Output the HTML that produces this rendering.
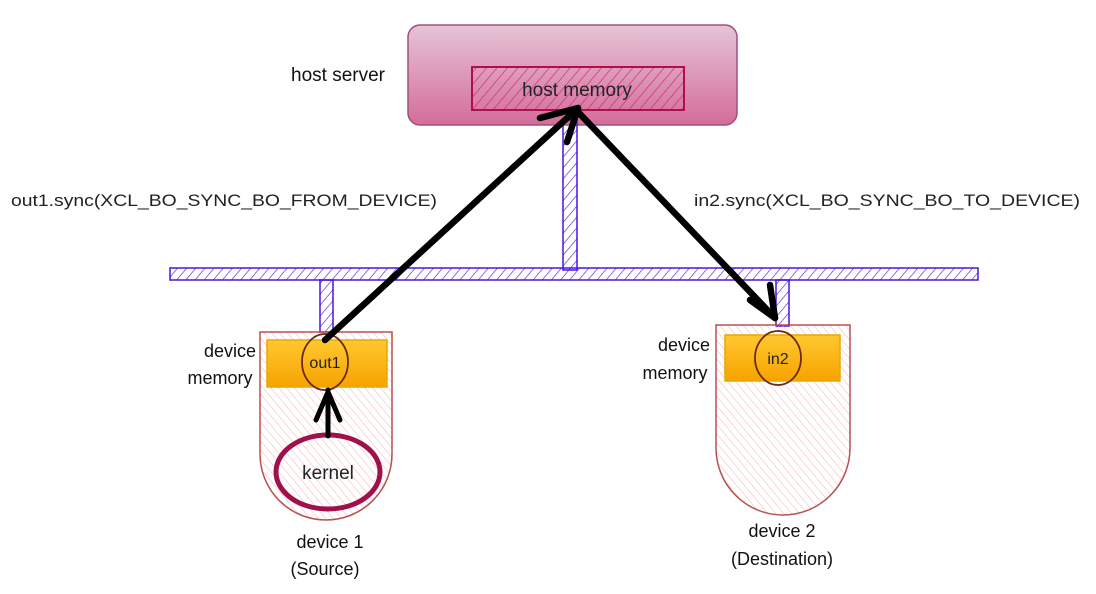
<!DOCTYPE html>
<html><head><style>
body{margin:0;background:#fff;}
svg{display:block;font-family:"Liberation Sans",sans-serif;}
</style></head><body>
<svg width="1096" height="594" viewBox="0 0 1096 594" xmlns="http://www.w3.org/2000/svg">
<defs>
<linearGradient id="hg" x1="0" y1="0" x2="0" y2="1"><stop offset="0" stop-color="#e6c4d6"/><stop offset="1" stop-color="#d46c9a"/></linearGradient>
<linearGradient id="og" x1="0" y1="0" x2="0" y2="1"><stop offset="0" stop-color="#ffc830"/><stop offset="1" stop-color="#f7a300"/></linearGradient>
<pattern id="bh" width="7" height="7" patternUnits="userSpaceOnUse" patternTransform="rotate(40)"><line x1="0" y1="0" x2="0" y2="7" stroke="#5522dd" stroke-width="1.3"/></pattern>
<pattern id="mh" width="8" height="8" patternUnits="userSpaceOnUse" patternTransform="rotate(40)"><line x1="0" y1="0" x2="0" y2="8" stroke="#d41a6e" stroke-width="1.2"/></pattern>
<pattern id="dh" width="6" height="6" patternUnits="userSpaceOnUse" patternTransform="rotate(-40)"><line x1="0" y1="0" x2="0" y2="6" stroke="#f4b0b0" stroke-width="1"/></pattern>
</defs>
<!-- host -->
<rect x="408" y="25" width="329" height="100" rx="12" fill="url(#hg)" stroke="#a05080" stroke-width="1.5"/>
<rect x="472" y="67" width="212" height="43" fill="url(#mh)" stroke="#b0104a" stroke-width="2"/>
<text x="577" y="96" font-size="19" text-anchor="middle" fill="#222">host memory</text>
<text x="338" y="81" font-size="19" text-anchor="middle" fill="#111">host server</text>
<!-- bus -->
<rect x="563" y="120" width="14" height="150" fill="url(#bh)" stroke="#4a14dd" stroke-width="1.5"/>
<rect x="170" y="268" width="808" height="12" fill="url(#bh)" stroke="#4a14dd" stroke-width="1.5"/>
<rect x="320" y="280" width="13" height="52" fill="url(#bh)" stroke="#4a14dd" stroke-width="1.5"/>
<rect x="776" y="280" width="13" height="46" fill="url(#bh)" stroke="#4a14dd" stroke-width="1.5"/>
<!-- devices -->
<path d="M260 332 H392 V454 A66 66 0 0 1 260 454 Z" fill="url(#dh)" stroke="#b85050" stroke-width="1.5"/>
<path d="M716 325 H850 V448 A67 67 0 0 1 716 448 Z" fill="url(#dh)" stroke="#b85050" stroke-width="1.5"/>
<rect x="267" y="340" width="120" height="47" fill="url(#og)" stroke="#e8a800" stroke-width="1.5"/>
<rect x="725" y="335" width="115" height="46" fill="url(#og)" stroke="#e8a800" stroke-width="1.5"/>
<ellipse cx="325" cy="362" rx="23" ry="28" fill="none" stroke="#6a2a10" stroke-width="1.8"/>
<ellipse cx="778" cy="358" rx="23" ry="27" fill="none" stroke="#6a2a10" stroke-width="1.8"/>
<text x="325" y="368" font-size="16" text-anchor="middle" fill="#222">out1</text>
<text x="778" y="364" font-size="16" text-anchor="middle" fill="#222">in2</text>
<ellipse cx="328" cy="472" rx="52" ry="37" fill="none" stroke="#a0104a" stroke-width="5"/>
<text x="328" y="479" font-size="19" text-anchor="middle" fill="#222">kernel</text>
<!-- arrows -->
<g stroke="#000" stroke-width="5" fill="none" stroke-linecap="round" stroke-linejoin="round">
<line x1="328" y1="436" x2="328" y2="390"/>
<polyline points="316,420 328,392 340,420"/>
</g>
<g stroke="#000" stroke-width="6.5" fill="none" stroke-linecap="round" stroke-linejoin="round">
<line x1="325" y1="340" x2="578" y2="108"/>
<polyline points="540,118 578,108 567,142"/>
<line x1="578" y1="112" x2="775" y2="318"/>
<polyline points="750,300 775,318 770,285"/>
</g>
<!-- labels -->
<text x="230" y="357" font-size="18" text-anchor="middle" fill="#111">device</text>
<text x="220" y="384" font-size="18" text-anchor="middle" fill="#111">memory</text>
<text x="684" y="351" font-size="18" text-anchor="middle" fill="#111">device</text>
<text x="675" y="379" font-size="18" text-anchor="middle" fill="#111">memory</text>
<text x="330" y="548" font-size="18" text-anchor="middle" fill="#111">device 1</text>
<text x="325" y="575" font-size="18" text-anchor="middle" fill="#111">(Source)</text>
<text x="782" y="537" font-size="18" text-anchor="middle" fill="#111">device 2</text>
<text x="782" y="565" font-size="18" text-anchor="middle" fill="#111">(Destination)</text>
<text x="11" y="206" font-size="17" fill="#222" textLength="426" lengthAdjust="spacingAndGlyphs">out1.sync(XCL_BO_SYNC_BO_FROM_DEVICE)</text>
<text x="694" y="206" font-size="17" fill="#222" textLength="386" lengthAdjust="spacingAndGlyphs">in2.sync(XCL_BO_SYNC_BO_TO_DEVICE)</text>
</svg>
</body></html>
